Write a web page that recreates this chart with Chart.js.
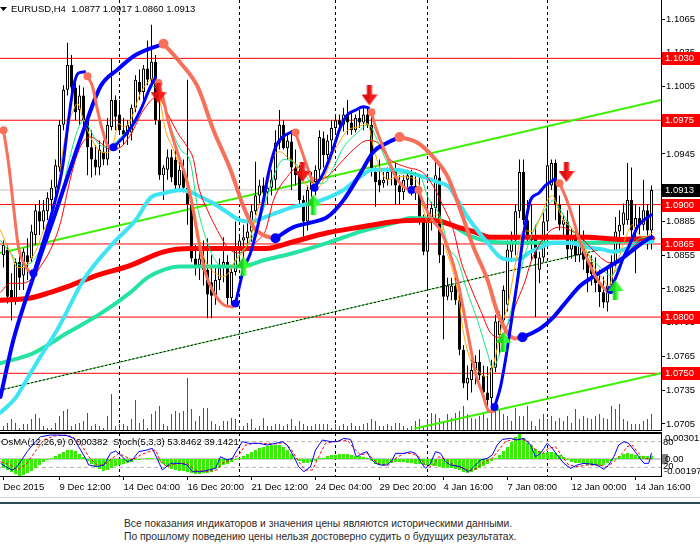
<!DOCTYPE html>
<html>
<head>
<meta charset="utf-8">
<title>EURUSD,H4</title>
<script src="https://cdn.jsdelivr.net/npm/chart.js"></script>
<style>
  html, body { margin: 0; padding: 0; background: #fff; }
  #wrap { position: relative; width: 700px; height: 552px; overflow: hidden; background: #fff; }
  #main { position: absolute; left: 0; top: 0; }
  #sub { position: absolute; left: 0; top: 432px; }
  #rule1 { position: absolute; left: 0; top: 497px; width: 700px; height: 1px; background: #d6d6d6; }
  #rule2 { position: absolute; left: 0; top: 502px; width: 700px; height: 2px; background: #2b4a5a; }
  #note { position: absolute; left: 124px; top: 518px; font: 10.3px/12.5px "Liberation Sans", Arial, sans-serif; color: #2a2a2a; white-space: nowrap; }
</style>
</head>
<body>
<div id="wrap">
  <canvas id="main" width="700" height="431"></canvas>
  <canvas id="sub" width="700" height="66"></canvas>
  <div id="rule1"></div>
  <div id="rule2"></div>
  <div id="note">Все показания индикаторов и значения цены являются историческими данными.<br>По прошлому поведению цены нельзя достоверно судить о будущих результатах.</div>
</div>
<script>
// ---- data ----
const symbol = 'EURUSD,H4';

const opens = [1.0855,1.0860,1.0824,1.0817,1.0849,1.0837,1.0855,1.0852,1.0873,1.0894,
  1.0885,1.0894,1.0904,1.0915,1.0933,1.0971,1.1002,1.1024,1.1004,1.0984,
  1.0997,1.0975,1.0951,1.0940,1.0933,1.0947,1.0940,1.0969,1.0993,1.0980,
  1.0966,1.0962,1.0964,1.0986,1.1009,1.1000,1.1021,1.1011,1.1027,1.0975,
  1.0926,1.0931,1.0942,1.0940,1.0917,1.0931,1.0915,1.0900,1.0852,1.0846,
  1.0852,1.0842,1.0831,1.0819,1.0833,1.0844,1.0849,1.0817,1.0840,1.0861,
  1.0868,1.0870,1.0876,1.0894,1.0908,1.0917,1.0911,1.0915,1.0922,1.0955,
  1.0971,1.0950,1.0956,1.0933,1.0926,1.0904,1.0885,1.0913,1.0920,1.0931,
  1.0959,1.0944,1.0957,1.0968,1.0975,1.0971,1.0980,1.0973,1.0966,1.0977,
  1.0973,1.0980,1.0971,1.0929,1.0922,1.0919,1.0922,1.0929,1.0931,1.0917,
  1.0911,1.0922,1.0926,1.0917,1.0913,1.0888,1.0858,1.0885,1.0897,1.0924,
  1.0855,1.0818,1.0822,1.0828,1.0815,1.0771,1.0741,1.0744,1.0753,1.0760,
  1.0748,1.0733,1.0728,1.0755,1.0784,1.0797,1.0811,1.0858,1.0868,1.0894,
  1.0929,1.0886,1.0873,1.0870,1.0842,1.0853,1.0885,1.0917,1.0937,1.0900,
  1.0882,1.0885,1.0860,1.0873,1.0855,1.0868,1.0851,1.0849,1.0838,1.0830,
  1.0822,1.0813,1.0828,1.0849,1.0876,1.0882,1.0886,1.0904,1.0879,1.0888,
  1.0882,1.0895,1.0877];
const highs = [1.0868,1.0864,1.0839,1.0852,1.0861,1.0861,1.0870,1.0882,1.0900,1.0904,
  1.0904,1.0911,1.0922,1.0940,1.0975,1.1006,1.1044,1.1033,1.1015,1.1006,
  1.1004,1.0980,1.0966,1.0953,1.0957,1.0957,1.0977,1.1030,1.0997,1.0993,
  1.0977,1.0975,1.0989,1.1015,1.1020,1.1024,1.1046,1.1060,1.1033,1.0993,
  1.0935,1.0949,1.0949,1.0949,1.0940,1.0940,1.1011,1.0904,1.0864,1.0864,
  1.0868,1.0870,1.0855,1.0846,1.0852,1.0871,1.0855,1.0846,1.0885,1.0873,
  1.0882,1.0886,1.0900,1.0938,1.0922,1.0924,1.0920,1.0931,1.0966,1.0984,
  1.0975,1.0962,1.0966,1.0949,1.0935,1.0908,1.0917,1.0929,1.0935,1.0966,
  1.0965,1.0962,1.0975,1.0980,1.0980,1.0986,1.0993,1.0982,1.0980,1.0984,
  1.0986,1.0986,1.0980,1.0933,1.0940,1.0929,1.0933,1.0935,1.0937,1.0926,
  1.0926,1.0931,1.0931,1.0929,1.0924,1.0891,1.0908,1.0902,1.0942,1.0935,
  1.0864,1.0835,1.0835,1.0835,1.0820,1.0775,1.0757,1.0762,1.0766,1.0771,
  1.0757,1.0756,1.0762,1.0802,1.0805,1.0828,1.0868,1.0876,1.0900,1.0940,
  1.0940,1.0904,1.0900,1.0882,1.0858,1.0893,1.0969,1.0940,1.0940,1.0908,
  1.0891,1.0895,1.0879,1.0882,1.0900,1.0877,1.0857,1.0855,1.0853,1.0842,
  1.0836,1.0845,1.0855,1.0889,1.0895,1.0901,1.0937,1.0933,1.0900,1.0898,
  1.0922,1.0900,1.0917];
const lows = [1.0844,1.0812,1.0797,1.0811,1.0824,1.0824,1.0833,1.0849,1.0864,1.0873,
  1.0877,1.0886,1.0895,1.0908,1.0929,1.0966,1.0997,1.0997,1.0975,1.0971,
  1.0966,1.0926,1.0924,1.0926,1.0926,1.0935,1.0935,1.0966,1.0966,1.0962,
  1.0953,1.0953,1.0957,1.0982,1.0993,1.0993,1.1006,1.1006,1.0971,1.0922,
  1.0904,1.0922,1.0920,1.0913,1.0911,1.0911,1.0882,1.0849,1.0837,1.0833,
  1.0828,1.0799,1.0799,1.0811,1.0824,1.0831,1.0811,1.0811,1.0837,1.0849,
  1.0846,1.0860,1.0867,1.0891,1.0900,1.0904,1.0900,1.0908,1.0913,1.0949,
  1.0949,1.0940,1.0913,1.0917,1.0900,1.0870,1.0877,1.0907,1.0908,1.0924,
  1.0933,1.0940,1.0944,1.0962,1.0966,1.0965,1.0962,1.0962,1.0964,1.0968,
  1.0966,1.0968,1.0925,1.0898,1.0911,1.0915,1.0917,1.0917,1.0900,1.0900,
  1.0904,1.0913,1.0908,1.0904,1.0882,1.0855,1.0824,1.0877,1.0885,1.0848,
  1.0780,1.0815,1.0815,1.0811,1.0766,1.0737,1.0726,1.0733,1.0740,1.0744,
  1.0726,1.0716,1.0722,1.0751,1.0766,1.0793,1.0805,1.0849,1.0855,1.0888,
  1.0882,1.0864,1.0851,1.0800,1.0830,1.0849,1.0879,1.0913,1.0886,1.0877,
  1.0873,1.0851,1.0852,1.0849,1.0849,1.0842,1.0822,1.0828,1.0822,1.0809,
  1.0808,1.0805,1.0824,1.0844,1.0857,1.0873,1.0882,1.0871,1.0839,1.0873,
  1.0877,1.0860,1.0860];
const closes = [1.0864,1.0818,1.0815,1.0849,1.0835,1.0858,1.0849,1.0876,1.0895,1.0885,
  1.0895,1.0906,1.0915,1.0935,1.0971,1.1002,1.1024,1.1004,1.0982,1.0997,
  1.0975,1.0951,1.0940,1.0933,1.0949,1.0940,1.0971,1.0993,1.0978,1.0966,
  1.0962,1.0971,1.0986,1.1011,1.1000,1.1021,1.1011,1.1027,1.0975,1.0926,
  1.0933,1.0942,1.0924,1.0917,1.0931,1.0915,1.0900,1.0852,1.0846,1.0852,
  1.0842,1.0820,1.0819,1.0833,1.0844,1.0849,1.0817,1.0840,1.0861,1.0868,
  1.0871,1.0876,1.0894,1.0908,1.0917,1.0911,1.0915,1.0922,1.0955,1.0971,
  1.0950,1.0957,1.0933,1.0926,1.0904,1.0885,1.0913,1.0922,1.0931,1.0960,
  1.0944,1.0957,1.0968,1.0975,1.0971,1.0980,1.0973,1.0966,1.0977,1.0973,
  1.0980,1.0971,1.0931,1.0920,1.0917,1.0922,1.0929,1.0931,1.0917,1.0911,
  1.0922,1.0926,1.0917,1.0913,1.0888,1.0858,1.0885,1.0897,1.0926,1.0855,
  1.0818,1.0828,1.0828,1.0815,1.0771,1.0741,1.0746,1.0753,1.0760,1.0748,
  1.0733,1.0726,1.0755,1.0796,1.0797,1.0824,1.0860,1.0868,1.0894,1.0929,
  1.0886,1.0873,1.0868,1.0852,1.0853,1.0885,1.0935,1.0937,1.0900,1.0882,
  1.0886,1.0860,1.0873,1.0855,1.0868,1.0851,1.0839,1.0838,1.0830,1.0822,
  1.0813,1.0828,1.0849,1.0876,1.0882,1.0893,1.0904,1.0877,1.0888,1.0882,
  1.0895,1.0877,1.0913];
const volumes = [500,800,1200,800,300,700,700,1200,1700,1300,
  500,300,300,800,1500,2000,2200,500,700,800,
  1000,1800,500,700,500,300,1500,3700,500,700,
  700,500,1200,3100,800,1200,300,1700,2000,2500,
  700,500,1700,2000,1800,2000,5300,2200,1000,1500,
  2300,2300,1000,700,500,1000,1000,1300,1200,500,
  500,800,1200,300,500,1300,500,500,700,700,
  500,700,1200,500,1000,700,500,500,700,700,
  700,700,300,700,500,700,500,800,500,500,
  700,800,1200,1000,500,500,700,500,800,800,
  500,300,500,1000,1200,500,1200,1800,1700,1300,
  1000,1700,1300,1800,2000,2500,1700,1300,1200,1500,
  1800,1300,2500,2000,2200,1700,1500,1000,2300,1500,
  1500,2500,1000,500,1200,1700,1200,1500,1000,1300,
  1000,1500,800,2200,1200,1500,1300,1200,1500,1700,
  1300,1200,2500,2200,2700,1200,1000,700,700,700,
  1000,1200,1700];

const priceMin = 1.06987, priceMax = 1.10819;
const priceTicks = [1.1065,1.1035,1.1005,1.0975,1.0945,1.0915,1.0885,1.0855,1.0825,1.0795,1.0765,1.0735,1.0705];
const levels = [1.1030, 1.0975, 1.0900, 1.0865, 1.0800, 1.0750];
const bidPrice = 1.0913;
const weekStarts = [29, 59, 83, 106, 136];
const timeTicks = [0, 14, 30, 46, 62, 78, 94, 110, 126, 142, 158];
const timeLabels = ['Dec 2015','9 Dec 12:00','14 Dec 04:00','16 Dec 20:00','21 Dec 12:00','24 Dec 04:00',
  '29 Dec 20:00','4 Jan 16:00','7 Jan 08:00','12 Jan 00:00','14 Jan 16:00'];

// moving averages, [bar, price]
const maSlowRed = [[-0.75,1.0815],[6.75,1.0817],[11.75,1.0822],[16,1.0827],[22.5,1.0836],[31.75,1.0846],[40,1.0858],
  [46.75,1.0861],[58.5,1.0861],[65.5,1.0861],[72.5,1.0867],[81,1.0875],[89.25,1.0880],[98,1.0885],[105,1.0886],
  [109.25,1.0885],[113.5,1.0880],[117.5,1.0876],[121.75,1.0871],[130,1.0871],[146,1.0871],[154.25,1.0869],[162.25,1.0870]];
const maSlowSea = [[-0.75,1.0759],[7.5,1.0768],[16,1.0786],[24.25,1.0803],[31.75,1.0822],[36,1.0835],[40,1.0842],
  [44.25,1.0845],[59.25,1.0845],[65.5,1.0851],[72.5,1.0857],[81,1.0866],[89.25,1.0876],[98,1.0884],[101.75,1.0888],
  [109.25,1.0886],[117.5,1.0871],[121.75,1.0867],[130,1.0866],[146,1.0866],[162.25,1.0869]];
const maCyan = [[-0.75,1.0715],[3,1.0728],[4.25,1.0735],[9.25,1.0765],[13,1.0786],[16,1.0806],[20,1.0833],[27.5,1.0866],
  [33,1.0886],[36.75,1.0906],[40,1.0910],[44.25,1.0913],[46.75,1.0911],[49.25,1.0907],[52.5,1.0901],[56,1.0893],
  [59.25,1.0886],[62.25,1.0885],[64.75,1.0888],[68.5,1.0893],[72.5,1.0898],[76.75,1.0901],[81,1.0906],[85,1.0913],
  [89.25,1.0925],[92.25,1.0931],[98,1.0931],[103.75,1.0926],[108.5,1.0920],[111.25,1.0916],[113.5,1.0904],[116,1.0889],
  [118.5,1.0877],[121,1.0866],[124.25,1.0853],[126.75,1.0851],[129.25,1.0852],[131.75,1.0858],[134.25,1.0862],
  [137.5,1.0866],[141,1.0866],[146,1.0862],[150,1.0860],[152.5,1.0858],[156,1.0861],[159.25,1.0866],[162.25,1.0867]];
const maFastRed = [[-0.75,1.0822],[1.75,1.0830],[4.25,1.0830],[6.75,1.0833],[9.25,1.0845],[11.75,1.0860],[14.25,1.0884],
  [16.25,1.0916],[18,1.0940],[19.75,1.0955],[21.75,1.0960],[24.25,1.0955],[26.75,1.0949],[29.25,1.0951],[31.75,1.0962],
  [35,1.0984],[38.5,1.0996],[41,1.0981],[43.5,1.0964],[46,1.0951],[47.5,1.0940],[48.75,1.0916],[51,1.0895],[53.5,1.0877],
  [56,1.0862],[58.5,1.0857],[61,1.0860],[63.5,1.0868],[65.5,1.0877],[67.5,1.0904],[71,1.0925],[73.5,1.0933],[76,1.0928],
  [78.5,1.0922],[81,1.0925],[84.25,1.0937],[87.5,1.0949],[91,1.0957],[93.5,1.0955],[96,1.0942],[98,1.0937],[101,1.0933],
  [105,1.0928],[107.5,1.0916],[110,1.0898],[112.5,1.0877],[114.25,1.0851],[116.75,1.0827],[119.25,1.0806],[121.75,1.0786],
  [124.25,1.0782],[126.25,1.0795],[128.5,1.0815],[130.5,1.0833],[131.75,1.0848],[134.25,1.0866],[136.75,1.0877],
  [139.25,1.0880],[141.75,1.0877],[144.25,1.0871],[146.75,1.0862],[149.25,1.0853],[151.75,1.0848],[154.25,1.0851],
  [156.75,1.0860],[159.25,1.0868],[162.25,1.0870]];
const maFastGreen = [[-0.75,1.0868],[1.75,1.0857],[4.25,1.0846],[6.75,1.0848],[9.25,1.0860],[11.75,1.0877],[14.25,1.0904],
  [16.25,1.0937],[18.5,1.0966],[20,1.0975],[21.75,1.0966],[23.5,1.0955],[26,1.0951],[28.5,1.0957],[31,1.0966],[33,1.0973],
  [35,1.0990],[37.5,1.1005],[39.75,1.0993],[41.75,1.0969],[44.25,1.0949],[46.75,1.0937],[48.5,1.0898],[50.5,1.0871],
  [52.5,1.0853],[54.75,1.0845],[56.75,1.0845],[59.25,1.0857],[61.75,1.0868],[64.25,1.0888],[67.5,1.0925],[70,1.0940],
  [72.5,1.0938],[75,1.0928],[77.5,1.0919],[80,1.0919],[82.5,1.0933],[85,1.0951],[88.5,1.0964],[91.25,1.0971],[93.5,1.0957],
  [96,1.0937],[98,1.0928],[101,1.0928],[104.25,1.0925],[106,1.0907],[109.25,1.0889],[111.25,1.0862],[113.5,1.0851],
  [116,1.0822],[118.5,1.0797],[121,1.0768],[122.25,1.0755],[123.5,1.0762],[125.5,1.0786],[127.5,1.0815],[129.75,1.0848],
  [132.5,1.0877],[135,1.0893],[137.5,1.0904],[139.25,1.0895],[141.75,1.0880],[144.25,1.0868],[146.75,1.0853],
  [149.25,1.0844],[151.75,1.0837],[154.25,1.0848],[156.75,1.0862],[159.25,1.0870],[162.25,1.0871]];
const maFastOrange = [[-0.75,1.0877],[1.75,1.0857],[3.5,1.0844],[5,1.0844],[6.75,1.0851],[8.5,1.0862],[10,1.0877],
  [11.75,1.0889],[13.5,1.0910],[14.75,1.0946],[16,1.0969],[17.25,1.0982],[18.5,1.0990],[19.75,1.0978],[21,1.0966],
  [22.5,1.0955],[24.25,1.0947],[26,1.0946],[27.5,1.0955],[28.75,1.0972],[30,1.0969],[31.75,1.0975],[34.25,1.0999],
  [36.75,1.1011],[38,1.1013],[39.25,1.0990],[40.5,1.0966],[42.25,1.0951],[43.75,1.0937],[45.5,1.0928],[47.25,1.0904],
  [48.5,1.0880],[49.75,1.0857],[51.25,1.0845],[53,1.0839],[54.75,1.0836],[56.25,1.0839],[58,1.0851],[59.75,1.0857],
  [61.75,1.0871],[63.75,1.0898],[65.5,1.0910],[67.5,1.0942],[69.25,1.0947],[71,1.0942],[72.5,1.0938],[74.25,1.0926],
  [76,1.0916],[77.5,1.0913],[79.25,1.0917],[81,1.0931],[82.5,1.0946],[84.25,1.0957],[86,1.0966],[88.5,1.0969],[91,1.0972],
  [92.5,1.0951],[94.25,1.0931],[96,1.0922],[98.5,1.0925],[101.75,1.0924],[103.75,1.0919],[105,1.0895],[106.25,1.0884],
  [108,1.0891],[109.25,1.0886],[110.5,1.0862],[112.25,1.0842],[113.75,1.0818],[115,1.0786],[116.75,1.0762],[118.5,1.0753],
  [120.5,1.0747],[122.25,1.0756],[123.5,1.0773],[124.75,1.0795],[126,1.0809],[127.25,1.0833],[128.5,1.0857],[130,1.0877],
  [132.25,1.0876],[134.25,1.0889],[136,1.0904],[137.25,1.0908],[138.5,1.0898],[140,1.0886],[141.75,1.0880],[143.75,1.0871],
  [146,1.0857],[148,1.0842],[150,1.0833],[151.25,1.0827],[152.5,1.0839],[154.25,1.0857],[156,1.0875],[157.25,1.0882],
  [158.5,1.0875],[160,1.0871],[162.25,1.0875]];

// colour-switching trend lines: segments alternate, slow starts rising, fast starts falling
const slowTrend = [
  [[-0.75,1.0729],[2.5,1.0780],[7.5,1.0836],[13.5,1.0898],[20,1.0966],[24.25,1.1005],[28.5,1.1020],[33,1.1033],[40,1.1043]],
  [[40,1.1043],[44.25,1.1026],[48.5,1.1005],[52.5,1.0966],[56.75,1.0931],[60,1.0898],[62.5,1.0880],[65.5,1.0872],[68,1.0870]],
  [[68,1.0870],[72.5,1.0880],[76.75,1.0884],[81,1.0889],[85,1.0904],[89.25,1.0928],[92.5,1.0947],[96,1.0955],[99,1.0960]],
  [[99,1.0960],[103.5,1.0955],[107.5,1.0942],[111,1.0925],[114.25,1.0895],[117.5,1.0862],[121,1.0833],[123.5,1.0804],[126,1.0786],[128,1.0781],[129.75,1.0782]],
  [[129.75,1.0782],[134.25,1.0790],[137.5,1.0800],[141,1.0815],[144.25,1.0828],[147.5,1.0836],[151,1.0844],[154.25,1.0851],[157.5,1.0860],[160.5,1.0868],[162,1.0871]]
];
const fastTrend = [
  [[0,1.0966],[1.25,1.0937],[2.5,1.0898],[3.75,1.0862],[5.5,1.0845],[7.5,1.0837]],
  [[7.5,1.0839],[10,1.0868],[12.5,1.0898],[14.75,1.0933],[16.25,1.0975],[17.5,1.1005],[18.75,1.1017],[20.25,1.1018]],
  [[21,1.1014],[22.25,1.1005],[23.5,1.0984],[24.75,1.0966],[26,1.0953],[27.25,1.0951]],
  [[27.5,1.0951],[30,1.0960],[32.5,1.0972],[34.5,1.0986],[36.75,1.1005],[38,1.1013]],
  [[38.75,1.1008],[40,1.0993],[41.25,1.0973],[43.5,1.0946],[45.5,1.0925],[47.25,1.0898],[48.75,1.0868],[50.5,1.0839],[52.5,1.0822],[55,1.0811],[57.25,1.0809]],
  [[58,1.0812],[60,1.0842],[61.75,1.0857],[63.5,1.0880],[65,1.0904],[66.25,1.0928],[68,1.0951],[69.75,1.0960],[72.25,1.0965]],
  [[73,1.0964],[74.25,1.0951],[75.5,1.0938],[76.75,1.0925],[77.75,1.0915]],
  [[77.75,1.0915],[80,1.0928],[82.25,1.0948],[84.25,1.0969],[86,1.0980],[88,1.0984],[90,1.0987],[91.25,1.0986]],
  [[92,1.0982],[93,1.0969],[94.25,1.0957],[96,1.0942],[98,1.0925],[100,1.0916],[101.5,1.0913]],
  [[102,1.0913],[103.25,1.0913]],
  [[103.75,1.0913],[105,1.0901],[107.25,1.0886],[109.25,1.0877],[111.25,1.0860],[113.5,1.0833],[115,1.0806],[116.75,1.0773],[118,1.0750],[119.75,1.0732],[121.25,1.0717],[122.5,1.0716]],
  [[122.75,1.0720],[124.25,1.0738],[125.5,1.0762],[126.75,1.0791],[128.5,1.0833],[130,1.0873],[131.75,1.0904],[133.75,1.0910],[135.5,1.0917],[138,1.0923]],
  [[139,1.0919],[140.5,1.0907],[142.25,1.0889],[143.75,1.0871],[146,1.0851],[148,1.0836],[150,1.0826],[151.25,1.0822]],
  [[151.75,1.0824],[153.5,1.0839],[155,1.0853],[156.75,1.0866],[158.5,1.0880],[160,1.0886],[162,1.0891]]
];

const trendUpper = [[-0.875,1.0857],[164.375,1.0993]];
const trendLower = [[102.875,1.0701],[164.375,1.0750]];
const trendDotted = [[-0.875,1.0735],[149.125,1.0860]];
const sellArrows = [[38.75,1.0999],[74.75,1.0929],[91.5,1.0997],[140.75,1.0929]];
const buyArrows = [[60,1.0845],[77.5,1.0900],[125,1.0778],[153,1.0824]];

// OsMA(12,26,9) histogram, one value per bar
const osma = [-0.00104,-0.00128,-0.00151,-0.00174,-0.00197,-0.00186,-0.00162,-0.00139,-0.00104,-0.0007,
  -0.00035,-0.00012,0.00012,0.00035,0.00058,0.00081,0.00104,0.00104,0.00093,0.00058,
  0.00023,-0.00023,-0.00058,-0.00093,-0.00116,-0.00139,-0.00128,-0.00104,-0.00081,-0.0007,
  -0.00058,-0.00046,-0.00035,-0.00012,-0.00012,0.00002,0.00012,0.00012,0.00002,-0.00023,
  -0.00058,-0.00093,-0.00116,-0.00128,-0.00139,-0.00139,-0.00151,-0.00162,-0.00174,-0.00174,
  -0.00162,-0.00162,-0.00151,-0.00116,-0.00093,-0.0007,-0.00058,-0.00035,-0.00012,0.00012,
  0.00035,0.00058,0.00081,0.00104,0.00128,0.00139,0.00151,0.00162,0.00162,0.00162,
  0.00139,0.00104,0.00058,0.00012,-0.00023,-0.00046,-0.00046,-0.00035,-0.00023,0.00012,
  0.00012,0.00035,0.00046,0.00046,0.00058,0.00058,0.00058,0.00046,0.00035,0.00035,
  0.00023,0.00012,-0.00023,-0.00058,-0.0007,-0.0007,-0.00058,-0.00046,-0.00035,-0.00035,
  -0.00035,-0.00046,-0.00046,-0.00058,-0.00058,-0.0007,-0.0007,-0.0007,-0.00081,-0.00093,
  -0.00104,-0.00104,-0.00104,-0.00116,-0.00128,-0.00151,-0.00162,-0.00151,-0.00128,-0.00104,
  -0.00081,-0.00058,-0.00023,0.00012,0.00046,0.00093,0.00139,0.00197,0.00255,0.00301,
  0.00243,0.00186,0.00151,0.00116,0.00093,0.0007,0.00081,0.00081,0.0007,0.00046,
  0.00023,-0.00012,-0.00035,-0.00046,-0.00046,-0.00058,-0.0007,-0.0007,-0.0007,-0.00081,
  -0.0007,-0.00046,-0.00023,0.00012,0.00035,0.00058,0.0007,0.00058,0.00046,0.00035,
  0.00035,0.00035,0.000382];
const osmaMin = -0.00197, osmaMax = 0.00301;
const osmaLast = 0.000382;

// Stochastic(5,3,3), [bar, value]
const stochMain = [[-0.75,29.5],[0.5,21.7],[2.2,14],[3,17.8],[4.25,33],[5.9,56.6],[8,79.8],[9.25,91.5],[11.75,95.3],[13.8,95.3],
  [15.9,93.8],[17.6,87.6],[18.8,68.2],[20.5,41],[21.3,25.6],[23.4,21.7],[25.1,25.6],[26.75,52.7],[28,58.1],[29.25,48.8],
  [30.9,33.3],[32.2,37.2],[33.8,56.6],[35.9,60.5],[37.2,64.3],[38.4,41],[39.7,14],[41.75,29.5],[44.25,29.5],[45.9,25.6],
  [47.2,10],[49.25,10],[51.3,14],[53,17.8],[54.25,44.9],[55.9,37.2],[57.2,41],[58.4,60.5],[59.7,79.8],[61.3,76],
  [63.8,76],[65.9,72.1],[68,76],[69.7,79.8],[70.9,72.1],[72.6,44.9],[73.8,21.7],[75.1,10],[76.75,21.7],[78,60.5],
  [79.7,83.7],[81.75,79.8],[83.4,79.8],[85.1,87.6],[86.75,85],[87.2,76],[88,48.8],[88.4,45],[89.7,52.7],[90.9,56.6],
  [91.75,41],[93,29.5],[94.25,25.6],[95.9,25.6],[97.2,37.2],[98,52.7],[100.1,52.7],[101.75,56.6],[103,52.7],[104.25,33.3],
  [105.5,17.8],[106.75,29.5],[108,56.6],[109.25,52.7],[110.5,33.3],[111.75,25.6],[114.25,21.7],[115.5,14],[116.3,10],
  [117.6,21.7],[119.25,37.2],[120.9,41],[122.2,48.8],[123.4,72.1],[124.7,85],[126.75,87.6],[128.4,83.7],[130.1,87.6],
  [131.75,72.1],[133,45],[134.25,52.7],[135.1,64.3],[135.9,76],[137.2,64.3],[138.4,48.8],[140.1,29.5],[141.75,17.8],
  [143.4,25.6],[145.1,29.5],[146.75,27.9],[148.4,25.6],[150.1,15.5],[151.3,25.6],[152.6,45],[153.8,72.1],[155.1,79.8],
  [156.3,76],[157.6,60.5],[158.8,45],[160.1,29.5],[161.3,29.5],[162,53.8462]];
const stochSignal = [[-0.75,33.3],[1.75,25.6],[3.4,13.9],[5.5,25.6],[7.6,52.7],[10.1,83.7],[12.6,93],[15.5,95.3],[17.2,91.4],
  [19.25,76],[21.3,44.9],[23.4,25.6],[25.1,25.6],[27.2,41],[28.8,52.7],[30.5,44.9],[32.2,37.2],[34.25,48.8],[36.3,56.5],
  [38,60.4],[39.25,33.3],[40.9,21.7],[43.4,29.4],[45.9,29.4],[48,13.9],[50.5,10],[53.4,13.9],[54.7,29.4],[56.75,37.2],
  [58.8,48.8],[60.5,72.1],[62.6,76],[65.1,76],[67.6,74.4],[70.1,77.5],[71.75,64.3],[73.8,33.3],[75.5,13.9],[77.2,13.9],
  [78.8,44.9],[80.5,76],[82.6,79.8],[85.9,83.7],[87.6,64.3],[89.25,48.8],[90.9,52.7],[92.6,37.2],[94.25,25.6],[96.3,25.6],
  [98,41],[100.1,52.7],[102.2,52.7],[103.8,44.9],[105.5,25.6],[107.2,21.7],[108.8,44.9],[110.9,37.2],[112.6,25.6],
  [115.1,17.8],[116.75,12.4],[118.4,17.8],[120.1,33.3],[122.2,41],[123.8,60.4],[125.5,79.8],[127.6,85.2],[129.7,85.2],
  [131.3,79.8],[133,60.4],[134.7,52.7],[136.3,64.3],[138,68.2],[139.7,44.9],[141.3,25.6],[143.4,21.7],[145.9,25.6],
  [148.8,25.6],[150.9,21.7],[152.6,33.3],[154.7,52.7],[155.9,68.2],[157.2,72.1],[158.4,56.5],[160.1,41],[162,39.1421]];
const stochLevels = [80, 20];

// ---- chart setup ----
const FONT = '"Liberation Sans", Arial, sans-serif';
Chart.defaults.font.family = FONT;
Chart.defaults.font.size = 9.5;
Chart.defaults.color = '#000';
Chart.defaults.animation = false;
Chart.defaults.plugins.legend.display = false;
Chart.defaults.plugins.tooltip.enabled = false;

const X_MIN = -0.875, X_MAX = 164.375;
const pts = arr => arr.map(p => ({x: p[0], y: p[1]}));

function lineSet(data, color, width, order, extra) {
  return Object.assign({
    type: 'line', data: pts(data), borderColor: color, borderWidth: width,
    pointRadius: 0, fill: false, order: order, cubicInterpolationMode: 'monotone',
    borderCapStyle: 'round', borderJoinStyle: 'round'
  }, extra || {});
}
function flatLine(y, color, width, order, axis, extra) {
  return Object.assign(lineSet([[X_MIN, y], [X_MAX, y]], color, width, order,
    {cubicInterpolationMode: 'default', borderCapStyle: 'butt'}), {yAxisID: axis}, extra || {});
}

function arrowImage(down, fill, shade) {
  const c = document.createElement('canvas');
  c.width = 16; c.height = 20;
  const g = c.getContext('2d');
  if (!down) { g.translate(0, 20); g.scale(1, -1); }
  g.beginPath();
  g.moveTo(5.5, 0); g.lineTo(10.5, 0); g.lineTo(10.5, 9); g.lineTo(16, 9);
  g.lineTo(8, 20); g.lineTo(0, 9); g.lineTo(5.5, 9); g.closePath();
  g.fillStyle = fill; g.fill();
  g.clip();
  g.fillStyle = shade; g.fillRect(0, 0, 8, 20);
  return c;
}

const SLOW_UP = '#0000ff', SALMON = '#f9705a';

const mainSets = [];
mainSets.push({
  type: 'bar', yAxisID: 'yVol', order: 100, grouped: false, barThickness: 1, inflateAmount: 0,
  data: volumes.map((v, i) => ({x: i, y: v})), backgroundColor: '#167c16'
});
mainSets.push(flatLine(bidPrice, '#c0c0c0', 1, 96, 'y'));
levels.forEach(v => mainSets.push(flatLine(v, '#ff0000', 1, 95, 'y')));
mainSets.push(lineSet(trendDotted, '#3fd83f', 1, 90, {cubicInterpolationMode: 'default'}));
mainSets.push(lineSet(trendDotted, '#000', 1, 89, {cubicInterpolationMode: 'default', borderDash: [2, 2], borderCapStyle: 'butt'}));
mainSets.push(lineSet(trendUpper, '#3cf000', 2, 88, {cubicInterpolationMode: 'default'}));
mainSets.push(lineSet(trendLower, '#3cf000', 2, 88, {cubicInterpolationMode: 'default'}));
// candles: wicks then bodies
mainSets.push({
  type: 'bar', order: 80, grouped: false, barThickness: 1, inflateAmount: 0,
  data: lows.map((l, i) => ({x: i, y: [l, highs[i]]})), backgroundColor: '#000'
});
mainSets.push({
  type: 'bar', order: 79, grouped: false, barThickness: 3, inflateAmount: 0,
  borderWidth: 1, borderColor: '#000', borderSkipped: false,
  data: opens.map((o, i) => ({x: i, y: [o, closes[i]]})),
  backgroundColor: opens.map((o, i) => closes[i] >= o ? '#fff' : '#000')
});
mainSets.push(lineSet(maSlowSea, '#25e3a0', 4, 62));
mainSets.push(lineSet(maSlowRed, '#ff0000', 5, 61));
mainSets.push(lineSet(maCyan, '#3ee4f4', 4, 60));
mainSets.push(lineSet(maFastRed, '#ff0000', 1, 57));
mainSets.push(lineSet(maFastGreen, '#12e67f', 1, 56));
mainSets.push(lineSet(maFastOrange, '#ffa500', 1, 55));
slowTrend.forEach((seg, k) => mainSets.push(lineSet(seg, k % 2 ? SALMON : SLOW_UP, 4, 50)));
fastTrend.forEach((seg, k) => mainSets.push(lineSet(seg, k % 2 ? SLOW_UP : SALMON, 3, 49)));
// markers where the trend lines switch colour
mainSets.push({
  type: 'line', showLine: false, order: 4, data: slowTrend.slice(1).map(s => ({x: s[0][0], y: s[0][1]})),
  pointRadius: 5, pointBorderWidth: 0,
  pointBackgroundColor: slowTrend.slice(1).map((s, k) => k % 2 ? SLOW_UP : SALMON)
});
mainSets.push({
  type: 'line', showLine: false, order: 3, data: fastTrend.map(s => ({x: s[0][0], y: s[0][1]})),
  pointRadius: 4, pointBorderWidth: 0,
  pointBackgroundColor: fastTrend.map((s, k) => k % 2 ? SLOW_UP : SALMON)
});
mainSets.push({
  type: 'line', showLine: false, order: 1, data: pts(sellArrows), pointRadius: 9,
  pointStyle: arrowImage(true, '#ff1a1a', 'rgba(150,0,0,0.35)')
});
mainSets.push({
  type: 'line', showLine: false, order: 1, data: pts(buyArrows), pointRadius: 9,
  pointStyle: arrowImage(false, '#33ff33', 'rgba(0,140,0,0.4)')
});

function drawSeparators(chart) {
  const {ctx, chartArea: a, scales: {x}} = chart;
  ctx.save();
  ctx.strokeStyle = '#000'; ctx.lineWidth = 1; ctx.setLineDash([3, 3]);
  weekStarts.forEach(i => {
    const px = Math.round(x.getPixelForValue(i)) - 0.5;
    ctx.beginPath(); ctx.moveTo(px, a.top); ctx.lineTo(px, a.bottom); ctx.stroke();
  });
  ctx.restore();
}

const mainDecor = {
  id: 'mainDecor',
  beforeDatasetsDraw: drawSeparators,
  afterDraw(chart) {
    const {ctx, chartArea: a, scales: {y}} = chart;
    ctx.save();
    ctx.fillStyle = '#000';
    ctx.fillRect(a.right, 0, 1, a.bottom);
    ctx.fillRect(0, a.bottom - 1, a.right + 1, 1);
    ctx.font = '9.5px ' + FONT;
    ctx.textBaseline = 'middle';
    ctx.textAlign = 'left';
    const tag = (v, bg) => {
      const py = Math.round(y.getPixelForValue(v));
      ctx.fillStyle = bg; ctx.fillRect(a.right + 1, py - 6, 38, 13);
      ctx.fillStyle = '#fff'; ctx.fillText(v.toFixed(4), a.right + 4, py + 0.5);
    };
    levels.forEach(v => tag(v, '#ff0000'));
    tag(bidPrice, '#000');
    ctx.fillStyle = '#000';
    ctx.beginPath(); ctx.moveTo(0, 7); ctx.lineTo(7, 7); ctx.lineTo(3.5, 11); ctx.closePath(); ctx.fill();
    const n = closes.length - 1;
    ctx.fillText(symbol + '  ' + [opens[n], highs[n], lows[n], closes[n]].map(v => v.toFixed(4)).join(' '), 11, 9.5);
    ctx.restore();
  }
};

new Chart(document.getElementById('main'), {
  type: 'line',
  data: {datasets: mainSets},
  options: {
    responsive: false,
    layout: {padding: 0, autoPadding: false},
    scales: {
      x: {type: 'linear', display: false, min: X_MIN, max: X_MAX, offset: false, grid: {offset: false}},
      y: {
        position: 'right', min: priceMin, max: priceMax, beginAtZero: false,
        afterBuildTicks: s => { s.ticks = priceTicks.map(v => ({value: v})); },
        afterFit: s => { s.width = 39; s.paddingTop = 0; s.paddingBottom = 0; },
        ticks: {padding: 1, callback: v => v.toFixed(4)},
        grid: {drawOnChartArea: false, drawTicks: true, tickLength: 4, color: '#000'},
        border: {display: false}
      },
      yVol: {display: false, min: 0, max: 43100, beginAtZero: true}
    }
  },
  plugins: [mainDecor]
});

// ---- OsMA + Stochastic window ----
const subSets = [
  flatLine(0, '#9a9a9a', 1, 30, 'yOsma'),
  ...stochLevels.map(v => flatLine(v, '#b4b4b4', 1, 29, 'yStoch', {borderDash: [4, 3]})),
  {
    type: 'bar', yAxisID: 'yOsma', order: 20, grouped: false, barThickness: 3, inflateAmount: 0,
    data: osma.map((v, i) => ({x: i, y: v})), backgroundColor: '#35ee00'
  },
  {type: 'line', yAxisID: 'yStoch', order: 2, data: pts(stochSignal), borderColor: '#ff0000', borderWidth: 1,
   borderDash: [3, 2], pointRadius: 0, fill: false},
  {type: 'line', yAxisID: 'yStoch', order: 1, data: pts(stochMain), borderColor: '#0000ff', borderWidth: 1,
   pointRadius: 0, fill: false}
];

const subDecor = {
  id: 'subDecor',
  beforeDatasetsDraw: drawSeparators,
  afterDraw(chart) {
    const {ctx, chartArea: a, scales: {yOsma, yStoch}} = chart;
    ctx.save();
    ctx.fillStyle = '#000';
    ctx.fillRect(0, 0, a.right + 1, 2);
    ctx.fillRect(a.right, 0, 1, a.bottom);
    ctx.font = '9.5px ' + FONT;
    ctx.textBaseline = 'middle';
    ctx.textAlign = 'left';
    ctx.fillText('OsMA(12,26,9) ' + osmaLast + '  Stoch(5,3,3) ' + stochMain[stochMain.length - 1][1] + ' ' +
      stochSignal[stochSignal.length - 1][1], 1, 10);
    const zero = Math.round(yOsma.getPixelForValue(0));
    ctx.fillStyle = '#808080';
    ctx.fillRect(a.right + 1, zero - 5, 6, 10);
    ctx.fillStyle = '#000';
    ctx.fillText(osmaMax.toFixed(5), a.right + 4, yOsma.getPixelForValue(osmaMax) + 5);
    ctx.fillText('0.00', a.right + 4, zero);
    ctx.fillText(osmaMin.toFixed(5), a.right + 3, yOsma.getPixelForValue(osmaMin) - 5);
    ctx.fillText(String(stochLevels[0]), a.right + 2, yStoch.getPixelForValue(stochLevels[0]) + 1);
    ctx.fillText(String(stochLevels[1]), a.right + 2, yStoch.getPixelForValue(stochLevels[1]) - 1);
    ctx.restore();
  }
};

new Chart(document.getElementById('sub'), {
  type: 'line',
  data: {datasets: subSets},
  options: {
    responsive: false,
    layout: {padding: {top: 1}, autoPadding: false},
    scales: {
      x: {
        type: 'linear', position: 'bottom', min: X_MIN, max: X_MAX, offset: false,
        afterBuildTicks: s => { s.ticks = timeTicks.map(v => ({value: v})); },
        afterFit: s => { s.height = 22; s.paddingLeft = 0; s.paddingRight = 0; },
        ticks: {autoSkip: false, maxRotation: 0, minRotation: 0, align: 'start', padding: 2,
                callback: (v, i) => timeLabels[i]},
        grid: {offset: false, drawOnChartArea: false, drawTicks: true, tickLength: 4, color: '#000'},
        border: {display: true, color: '#000'}
      },
      yOsma: {
        position: 'right', min: osmaMin, max: osmaMax, beginAtZero: false,
        afterFit: s => { s.width = 39; s.paddingTop = 0; s.paddingBottom = 0; },
        ticks: {display: false}, grid: {display: false}, border: {display: false}
      },
      yStoch: {display: false, min: 0, max: 100}
    }
  },
  plugins: [subDecor]
});
</script>
</body>
</html>
